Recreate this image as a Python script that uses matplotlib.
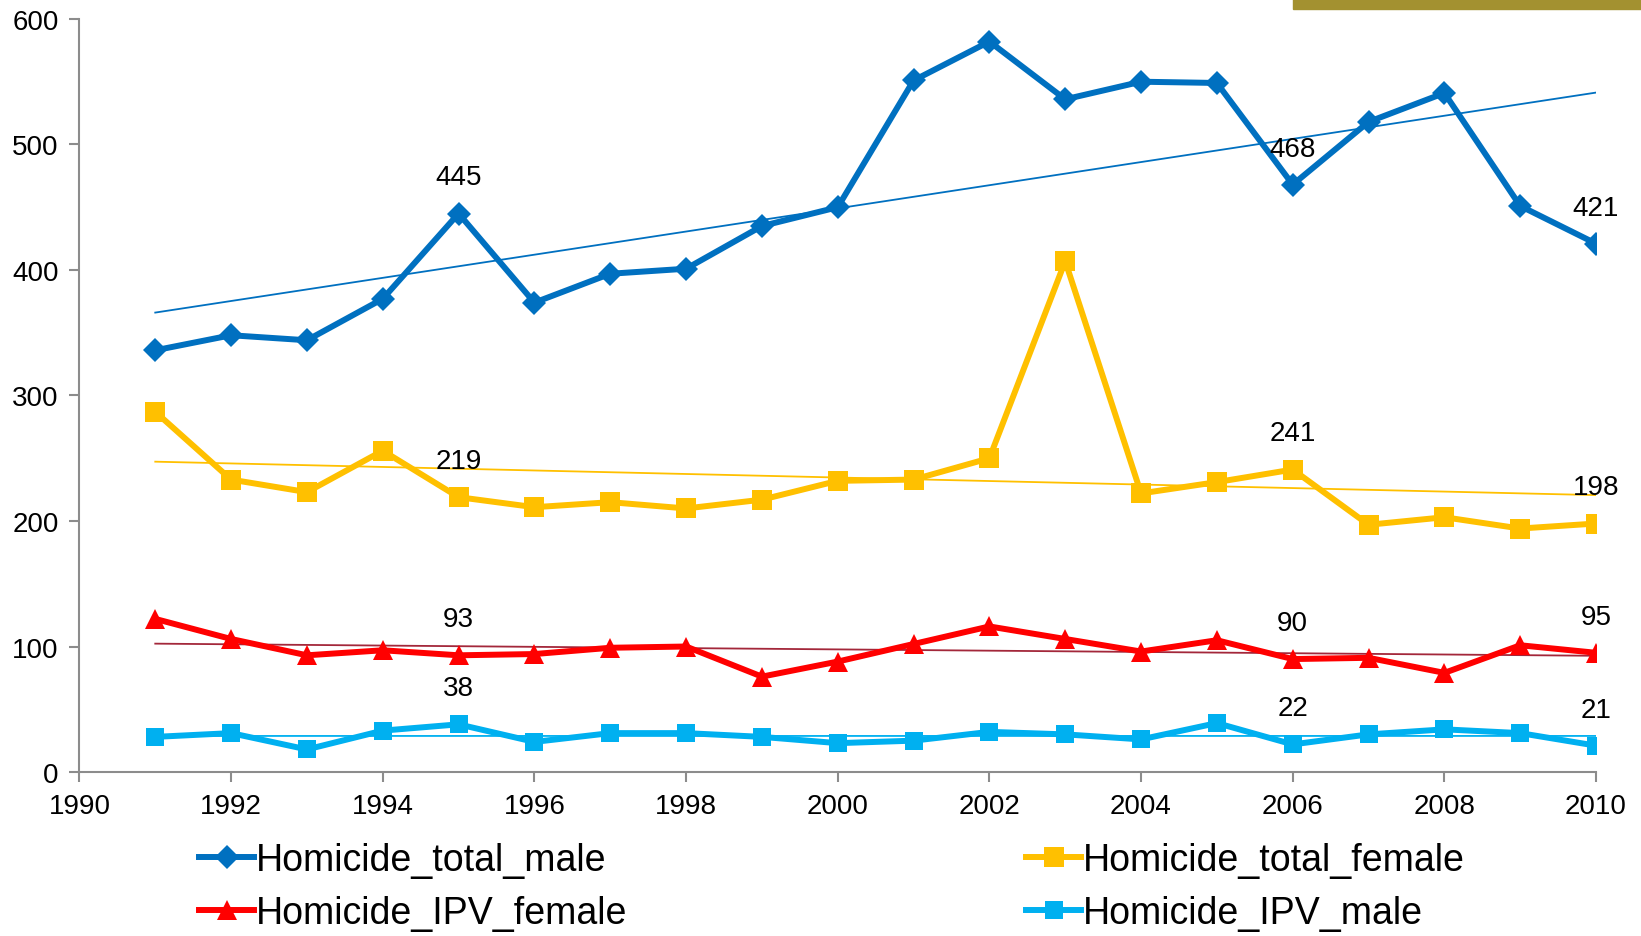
import numpy as np
import matplotlib
matplotlib.use("Agg")
import matplotlib.pyplot as plt
from matplotlib.patches import Rectangle

plt.rcParams['font.family'] = ['Liberation Sans', 'DejaVu Sans']

# Jahre und Fallzahlen
years = list(range(1991, 2011))
total_male = [336, 348, 344, 377, 445, 374, 397, 401, 435, 450,
              551, 582, 536, 550, 549, 468, 518, 541, 451, 421]
total_female = [287, 233, 223, 256, 219, 211, 215, 210, 217, 232,
                233, 250, 407, 222, 231, 241, 197, 203, 194, 198]
ipv_female = [122, 106, 93, 97, 93, 94, 99, 100, 76, 88,
              102, 116, 106, 96, 105, 90, 91, 79, 101, 95]
ipv_male = [28, 31, 18, 33, 38, 24, 31, 31, 28, 23,
            25, 32, 30, 26, 39, 22, 30, 34, 31, 21]

# Beschriftete Jahre
label_years = [1995, 2006, 2010]

series = [
    ("Homicide_total_male", total_male, "#0070C0", "D", 12.5, "#0070C0"),
    ("Homicide_total_female", total_female, "#FFC000", "s", 14, "#FFC000"),
    ("Homicide_IPV_female", ipv_female, "#FF0000", "^", 14, "#A3273A"),
    ("Homicide_IPV_male", ipv_male, "#00B0F0", "s", 13, "#00B0F0"),
]

fig = plt.figure(figsize=(16.41, 9.37), dpi=100)
ax = fig.add_axes([0.0484, 0.175, 0.9242, 0.8037])

handles = {}
x = np.array(years)
for name, vals, color, marker, ms, tcolor in series:
    y = np.array(vals)
    # lineare Trendlinie
    k, d = np.polyfit(x, y, 1)
    ax.plot(x, k * x + d, color=tcolor, lw=1.3, zorder=2)
    line, = ax.plot(x, y, color=color, lw=4.3, marker=marker, markersize=ms,
                    markeredgewidth=0, zorder=3, label=name)
    handles[name] = line
    for yr in label_years:
        v = vals[years.index(yr)]
        ax.annotate(str(v), (yr, v), xytext=(0, 26), textcoords="offset points",
                    ha="center", va="center", fontsize=20, color="black", zorder=4)

ax.set_xlim(1990, 2010)
ax.set_ylim(0, 600)
ax.set_xticks(range(1990, 2011, 2))
ax.set_yticks(range(0, 601, 100))
for s in ["top", "right"]:
    ax.spines[s].set_visible(False)
for s in ["left", "bottom"]:
    ax.spines[s].set_color("#8C8C8C")
    ax.spines[s].set_linewidth(1.5)
ax.tick_params(axis="both", colors="#8C8C8C", length=7, width=1.5, labelsize=20,
               labelcolor="black", direction="out")
ax.tick_params(axis="x", pad=8)
ax.tick_params(axis="y", pad=8)

# Legende in zwei Spalten
leg_kw = dict(frameon=False, fontsize=27, handlelength=1.45, handletextpad=0.05,
              labelspacing=0.45, borderpad=0, borderaxespad=0, loc="upper left")
fig.legend([handles["Homicide_total_male"], handles["Homicide_IPV_female"]],
           ["Homicide_total_male", "Homicide_IPV_female"],
           bbox_to_anchor=(0.1215, 0.1), **leg_kw)
fig.legend([handles["Homicide_total_female"], handles["Homicide_IPV_male"]],
           ["Homicide_total_female", "Homicide_IPV_male"],
           bbox_to_anchor=(0.6255, 0.1), **leg_kw)

# Balken oben rechts
fig.patches.append(Rectangle((0.788, 0.9888), 0.212, 0.0112, transform=fig.transFigure,
                             color="#A39130", zorder=5))

fig.savefig("out.png", dpi=100)
